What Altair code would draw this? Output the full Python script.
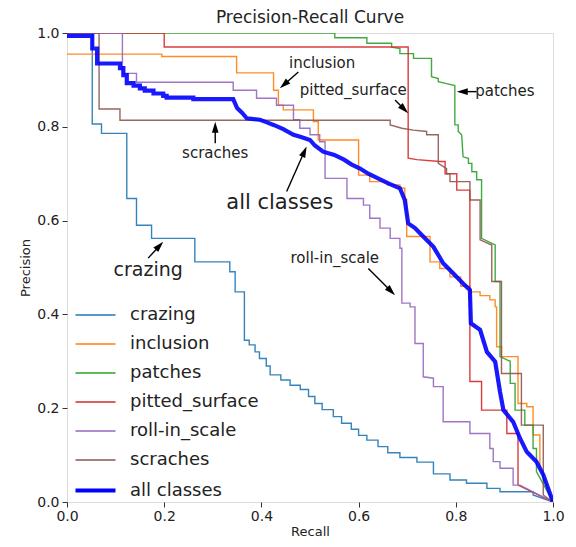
import math
import altair as alt
import pandas as pd

FONT = "DejaVu Sans"

series_names = ["crazing", "inclusion", "patches", "pitted_surface",
                "roll-in_scale", "scraches", "all classes"]
series_colors = ["#1f77b4", "#ff7f0e", "#2ca02c", "#d62728",
                 "#9467bd", "#8c564b", "#0000ff"]
series_widths = [1.4, 1.4, 1.4, 1.4, 1.4, 1.4, 4.2]

crazing = [(0, 1.0), (0.052, 1.0), (0.052, 0.806), (0.071, 0.806), (0.071, 0.786), (0.123, 0.786),
           (0.123, 0.647), (0.143, 0.647), (0.143, 0.59), (0.174, 0.59), (0.174, 0.562), (0.263, 0.562),
           (0.263, 0.512), (0.335, 0.512), (0.335, 0.491), (0.346, 0.491), (0.346, 0.448), (0.365, 0.448),
           (0.365, 0.345), (0.375, 0.345), (0.375, 0.335), (0.387, 0.335), (0.387, 0.32), (0.396, 0.32),
           (0.396, 0.306), (0.41, 0.306), (0.41, 0.29), (0.418, 0.29), (0.418, 0.271), (0.44, 0.271),
           (0.44, 0.26), (0.459, 0.26), (0.459, 0.249), (0.48, 0.249), (0.48, 0.24), (0.497, 0.24),
           (0.497, 0.225), (0.51, 0.225), (0.51, 0.21), (0.525, 0.21), (0.525, 0.197), (0.548, 0.197),
           (0.548, 0.182), (0.565, 0.182), (0.565, 0.168), (0.585, 0.168), (0.585, 0.155), (0.6, 0.155),
           (0.6, 0.142), (0.617, 0.142), (0.617, 0.132), (0.64, 0.132), (0.64, 0.118), (0.66, 0.118),
           (0.66, 0.105), (0.685, 0.105), (0.685, 0.095), (0.72, 0.095), (0.72, 0.085), (0.754, 0.085),
           (0.754, 0.06), (0.788, 0.06), (0.788, 0.047), (0.822, 0.047), (0.822, 0.04), (0.864, 0.04),
           (0.864, 0.029), (0.891, 0.029), (0.891, 0.022), (0.959, 0.022), (0.959, 0.015), (1.0, 0.0)]

inclusion = [(0, 0.955), (0.195, 0.955), (0.195, 0.95), (0.349, 0.95), (0.349, 0.915), (0.425, 0.915),
             (0.425, 0.878), (0.435, 0.878), (0.435, 0.846), (0.445, 0.846), (0.445, 0.836), (0.507, 0.836),
             (0.507, 0.811), (0.517, 0.811), (0.517, 0.772), (0.6, 0.772), (0.6, 0.697), (0.623, 0.697),
             (0.623, 0.683), (0.66, 0.683), (0.66, 0.676), (0.685, 0.676), (0.685, 0.669), (0.695, 0.669),
             (0.695, 0.645), (0.699, 0.645), (0.699, 0.566), (0.747, 0.566), (0.747, 0.512), (0.767, 0.512),
             (0.767, 0.498), (0.788, 0.498), (0.788, 0.48), (0.81, 0.48), (0.81, 0.46), (0.829, 0.46),
             (0.829, 0.448), (0.85, 0.448), (0.85, 0.44), (0.87, 0.44), (0.87, 0.431), (0.881, 0.431),
             (0.881, 0.416), (0.884, 0.416), (0.884, 0.331), (0.894, 0.331), (0.894, 0.31), (0.928, 0.31),
             (0.928, 0.21), (0.946, 0.21), (0.946, 0.203), (0.959, 0.203), (0.959, 0.143), (0.973, 0.143),
             (0.973, 0.072), (1.0, 0.0)]

patches = [(0, 1.0), (0.551, 1.0), (0.551, 0.99), (0.617, 0.99), (0.617, 0.978), (0.668, 0.978),
           (0.668, 0.97), (0.685, 0.967), (0.685, 0.956), (0.713, 0.956), (0.713, 0.946), (0.75, 0.946),
           (0.75, 0.907), (0.764, 0.903), (0.764, 0.896), (0.781, 0.892), (0.798, 0.888), (0.798, 0.804),
           (0.805, 0.804), (0.805, 0.79), (0.812, 0.783), (0.815, 0.736), (0.826, 0.733), (0.826, 0.722),
           (0.833, 0.722), (0.833, 0.704), (0.843, 0.704), (0.843, 0.687), (0.853, 0.687), (0.853, 0.562),
           (0.881, 0.548), (0.881, 0.47), (0.891, 0.47), (0.891, 0.31), (0.912, 0.3), (0.912, 0.253),
           (0.922, 0.253), (0.922, 0.196), (0.942, 0.196), (0.942, 0.164), (0.959, 0.164), (0.959, 0.114),
           (0.966, 0.114), (0.966, 0.065), (1.0, 0.0)]

pitted_surface = [(0, 1.0), (0.2, 1.0), (0.2, 0.97), (0.702, 0.97), (0.702, 0.733), (0.72, 0.73),
                  (0.767, 0.726), (0.778, 0.726), (0.778, 0.7), (0.802, 0.7), (0.802, 0.665), (0.829, 0.665),
                  (0.829, 0.257), (0.853, 0.257), (0.853, 0.196), (0.905, 0.196), (0.905, 0.146),
                  (0.928, 0.146), (0.928, 0.036), (1.0, 0.0)]

roll_in_scale = [(0, 1.0), (0.114, 1.0), (0.114, 0.914), (0.143, 0.914), (0.143, 0.895), (0.342, 0.895),
                 (0.342, 0.878), (0.39, 0.878), (0.39, 0.861), (0.431, 0.861), (0.431, 0.846), (0.466, 0.846),
                 (0.466, 0.815), (0.479, 0.815), (0.479, 0.797), (0.5, 0.797), (0.5, 0.783), (0.52, 0.783),
                 (0.52, 0.768), (0.531, 0.768), (0.531, 0.69), (0.576, 0.69), (0.576, 0.647), (0.61, 0.647),
                 (0.61, 0.633), (0.623, 0.633), (0.623, 0.605), (0.644, 0.605), (0.644, 0.584), (0.665, 0.584),
                 (0.665, 0.562), (0.685, 0.562), (0.685, 0.541), (0.689, 0.541), (0.689, 0.424), (0.706, 0.424),
                 (0.706, 0.416), (0.716, 0.416), (0.716, 0.338), (0.733, 0.338), (0.733, 0.267), (0.754, 0.264),
                 (0.754, 0.246), (0.774, 0.246), (0.774, 0.171), (0.829, 0.171), (0.829, 0.146), (0.87, 0.146),
                 (0.87, 0.114), (0.877, 0.114), (0.877, 0.086), (0.891, 0.086), (0.891, 0.072), (0.918, 0.072),
                 (0.918, 0.036), (0.932, 0.036), (1.0, 0.0)]

scraches = [(0, 1.0), (0.066, 1.0), (0.066, 0.838), (0.109, 0.838), (0.109, 0.814), (0.665, 0.814),
            (0.665, 0.804), (0.689, 0.797), (0.713, 0.793), (0.74, 0.79), (0.74, 0.783), (0.764, 0.783),
            (0.764, 0.722), (0.781, 0.711), (0.781, 0.7), (0.788, 0.7), (0.788, 0.683), (0.829, 0.683),
            (0.829, 0.644), (0.85, 0.644), (0.85, 0.559), (0.874, 0.548), (0.874, 0.47), (0.894, 0.47),
            (0.894, 0.274), (0.935, 0.274), (0.935, 0.164), (0.98, 0.164), (0.98, 0.015), (1.0, 0.0)]

all_classes = [(0, 0.994), (0.052, 0.994), (0.052, 0.967), (0.062, 0.967), (0.062, 0.935), (0.109, 0.935),
               (0.109, 0.925), (0.116, 0.925), (0.116, 0.91), (0.123, 0.91), (0.123, 0.893), (0.137, 0.893),
               (0.137, 0.888), (0.15, 0.888), (0.15, 0.882), (0.16, 0.882), (0.16, 0.877), (0.178, 0.877),
               (0.178, 0.871), (0.198, 0.871), (0.198, 0.866), (0.205, 0.866), (0.205, 0.862), (0.26, 0.862),
               (0.26, 0.859), (0.342, 0.859), (0.35, 0.84), (0.36, 0.83), (0.37, 0.818), (0.397, 0.815),
               (0.41, 0.81), (0.425, 0.804), (0.445, 0.795), (0.466, 0.783), (0.48, 0.779), (0.5, 0.772),
               (0.51, 0.76), (0.527, 0.747), (0.55, 0.74), (0.57, 0.73), (0.585, 0.72), (0.603, 0.711),
               (0.62, 0.7), (0.64, 0.69), (0.66, 0.68), (0.685, 0.669), (0.695, 0.644), (0.702, 0.594),
               (0.716, 0.584), (0.733, 0.566), (0.754, 0.544), (0.765, 0.525), (0.774, 0.509), (0.795, 0.487),
               (0.815, 0.466), (0.829, 0.452), (0.831, 0.381), (0.85, 0.367), (0.864, 0.32), (0.881, 0.299),
               (0.891, 0.235), (0.898, 0.196), (0.918, 0.171), (0.932, 0.136), (0.946, 0.107), (0.966, 0.086),
               (0.98, 0.058), (1.0, 0.0)]

series_points = [crazing, inclusion, patches, pitted_surface, roll_in_scale, scraches, all_classes]

# annotations (text centre, arrow tail, arrow tip) in data units
ann_text = ["inclusion", "pitted_surface", "patches", "scraches", "all classes", "crazing", "roll-in_scale"]
ann_tx = [0.525, 0.589, 0.901, 0.305, 0.438, 0.167, 0.551]
ann_ty = [0.936, 0.878, 0.877, 0.744, 0.637, 0.495, 0.520]
ann_fs = [15, 15, 15, 15, 21, 19, 15]
arr_x0 = [0.476, 0.675, 0.843, 0.305, 0.452, 0.167, 0.620]
arr_y0 = [0.917, 0.857, 0.875, 0.765, 0.662, 0.520, 0.498]
arr_x1 = [0.438, 0.702, 0.802, 0.305, 0.493, 0.198, 0.675]
arr_y1 = [0.882, 0.829, 0.875, 0.811, 0.758, 0.555, 0.441]

ticks = [0.0, 0.2, 0.4, 0.6, 0.8, 1.0]

W, H = 486, 469

rows = []
for name, pts in zip(series_names, series_points):
    for i, (r, p) in enumerate(pts):
        rows.append({"series": name, "recall": r, "precision": p, "i": i})
df = pd.DataFrame(rows)

arrows = []
HEAD = 11.0
for k in range(len(ann_text)):
    dxp = (arr_x1[k] - arr_x0[k]) * W
    dyp = -(arr_y1[k] - arr_y0[k]) * H
    L = math.hypot(dxp, dyp)
    ux, uy = dxp / L, dyp / L
    ang = math.degrees(math.atan2(dxp, -dyp)) % 360
    hx = arr_x1[k] - ux * HEAD / 2 / W
    hy = arr_y1[k] + uy * HEAD / 2 / H
    sx = arr_x1[k] - ux * HEAD * 0.8 / W
    sy = arr_y1[k] + uy * HEAD * 0.8 / H
    arrows.append({"x0": arr_x0[k], "y0": arr_y0[k], "sx": sx, "sy": sy,
                   "hx": hx, "hy": hy, "ang": ang,
                   "text": ann_text[k], "tx": ann_tx[k], "ty": ann_ty[k], "fs": ann_fs[k]})
adf = pd.DataFrame(arrows)

xscale = alt.Scale(domain=[0, 1], nice=False, zero=False)
yscale = alt.Scale(domain=[0, 1], nice=False, zero=False)

legend = alt.Legend(title=None, orient="none", legendX=16, legendY=271,
                    symbolType="M-2,0L2,0", symbolSize=400, labelFontSize=18,
                    labelFont=FONT, labelColor="#222", labelOffset=22,
                    rowPadding=9, padding=0)

color_enc = alt.Color("series:N", sort=series_names,
                      scale=alt.Scale(type="ordinal", domain=series_names, range=series_colors),
                      legend=legend)
width_enc = alt.StrokeWidth("series:N", sort=series_names,
                            scale=alt.Scale(type="ordinal", domain=series_names, range=series_widths),
                            legend=legend)


def axis(title, lpad, tpad):
    return alt.Axis(values=ticks, format=".1f", title=title, grid=False, domain=False,
                    tickSize=5, tickColor="#333", labelFontSize=14, labelColor="#222",
                    titleFontSize=13, titleFontWeight="normal", titleColor="#222",
                    labelPadding=lpad, titlePadding=tpad, labelFont=FONT, titleFont=FONT,
                    labelFlush=False)


x_enc = alt.X("recall:Q", scale=xscale, axis=axis("Recall", 2, 2))
y_enc = alt.Y("precision:Q", scale=yscale, axis=axis("Precision", 3, 4))

base = alt.Chart(df).mark_line(clip=True, strokeCap="butt", strokeOpacity=0.9).encode(
    x=x_enc, y=y_enc, color=color_enc, strokeWidth=width_enc, order=alt.Order("i:Q"))

thin = base.transform_filter(alt.datum.series != "all classes")
thick = base.transform_filter(alt.datum.series == "all classes")

shafts = alt.Chart(adf).mark_rule(color="black", strokeWidth=1.4).encode(
    x=alt.X("x0:Q", scale=xscale), y=alt.Y("y0:Q", scale=yscale),
    x2="sx:Q", y2="sy:Q")

heads = alt.Chart(adf).mark_point(shape="M0,-1L0.6,1L-0.6,1Z", filled=True, color="black",
                                  opacity=1, size=121).encode(
    x=alt.X("hx:Q", scale=xscale), y=alt.Y("hy:Q", scale=yscale),
    angle=alt.Angle("ang:Q", scale=None))

labels = alt.Chart(adf).mark_text(font=FONT, color="#222", align="center", baseline="middle").encode(
    x=alt.X("tx:Q", scale=xscale), y=alt.Y("ty:Q", scale=yscale),
    text="text:N", size=alt.Size("fs:Q", scale=None))

chart = alt.layer(thin, thick, shafts, heads, labels).properties(
    width=W, height=H,
    title=alt.TitleParams("Precision-Recall Curve", fontSize=17, font=FONT, fontWeight="normal",
                          color="#222", offset=-1, frame="group"),
    autosize=alt.AutoSizeParams(type="none"),
    padding={"left": 59, "top": 25, "right": 15, "bottom": 40},
).configure_view(stroke="#333", strokeWidth=1).configure(font=FONT, background="white")

chart.save("out.html", embed_options={"renderer": "svg", "actions": False})
